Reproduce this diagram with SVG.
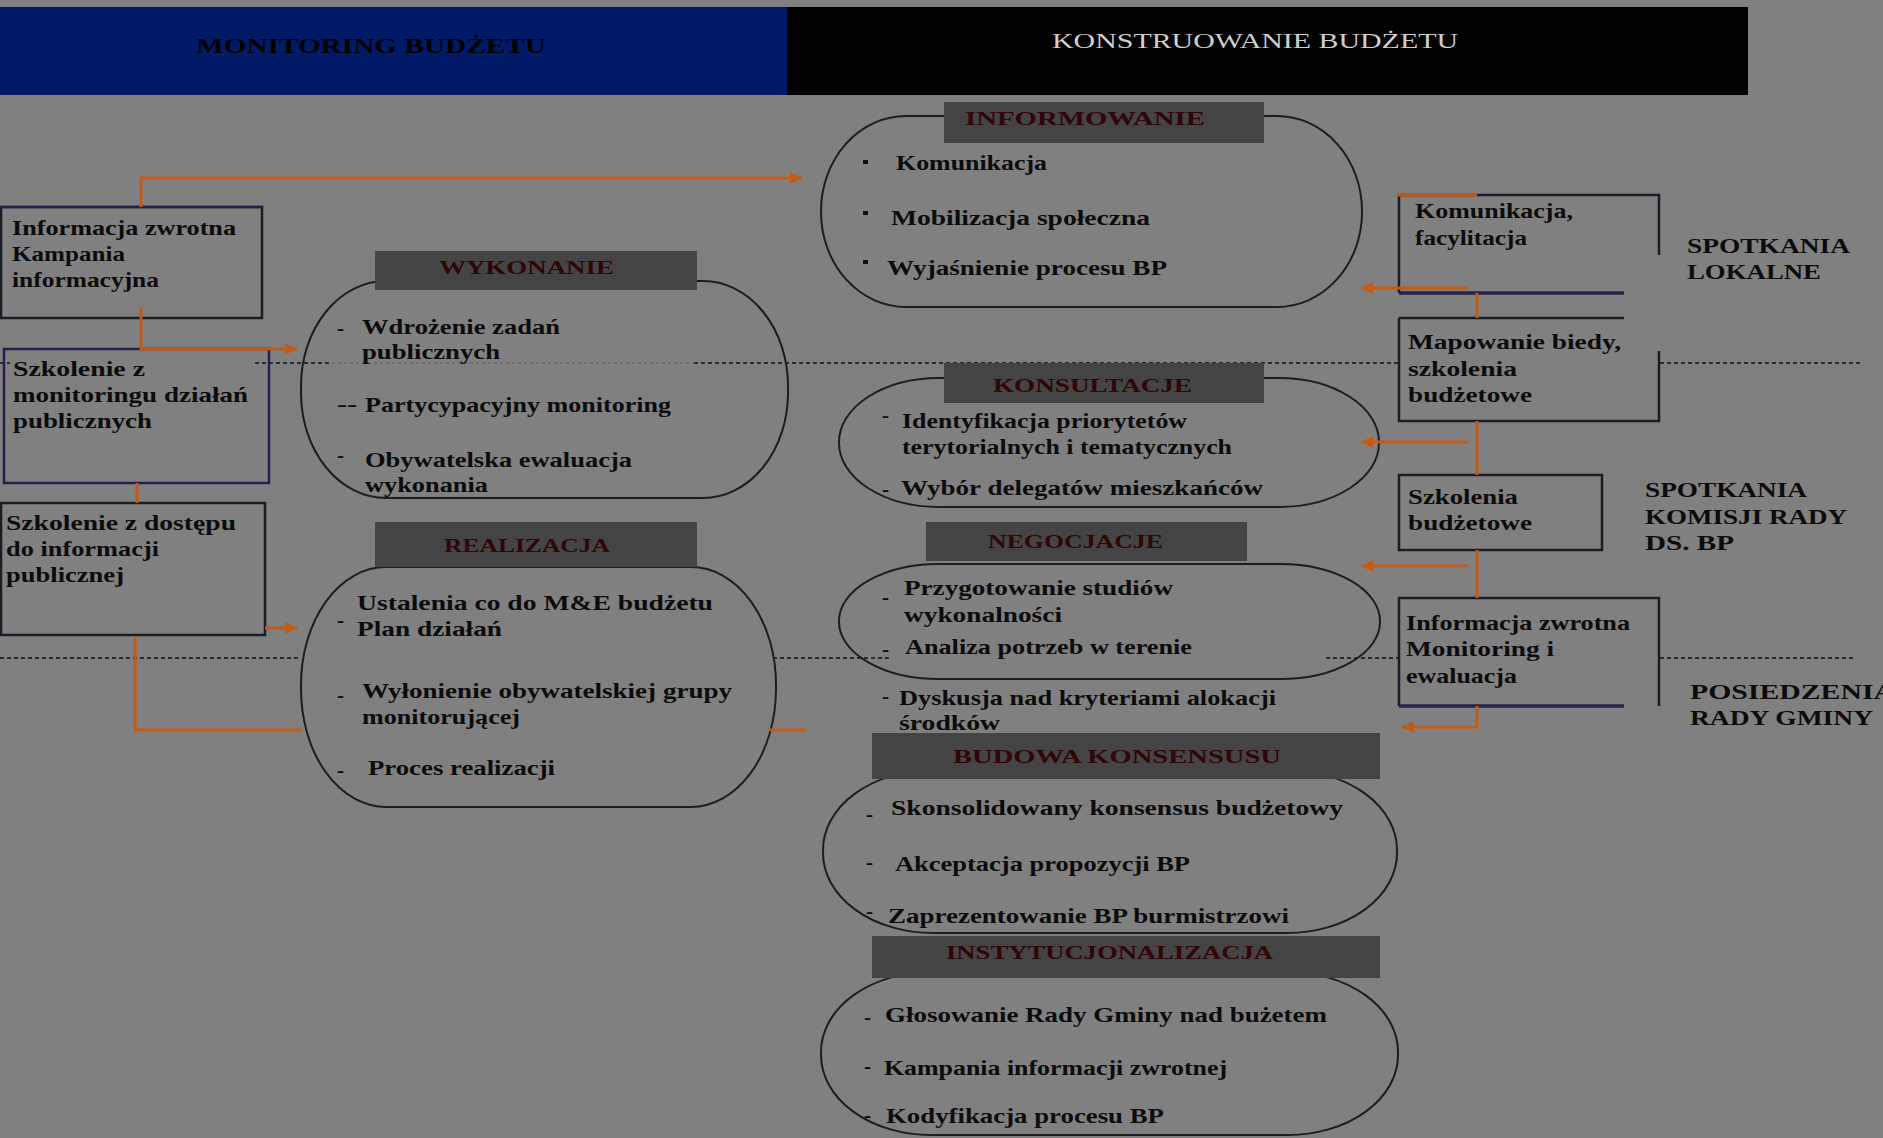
<svg xmlns="http://www.w3.org/2000/svg" width="1883" height="1138" viewBox="0 0 1883 1138">
<defs>
<marker id="ah" viewBox="0 0 10 10" refX="10" refY="5" markerWidth="12" markerHeight="12" markerUnits="userSpaceOnUse" orient="auto"><path d="M0,0 L10,5 L0,10 z" fill="#c25b14"/></marker>
</defs>
<style>
.t{font-family:"Liberation Serif","Times New Roman",serif;font-weight:bold;font-size:21px;fill:#0c0c0c;}
.h{font-family:"Liberation Serif","Times New Roman",serif;font-weight:bold;font-size:19px;fill:#300606;}
.lab{font-size:22px}
.box{fill:none;stroke:#1c1c26;stroke-width:2.5}
.pbox{fill:none;stroke:#2a1d4e;stroke-width:2.5}
.pedge{fill:none;stroke:#2a2244;stroke-width:3.5}
.shape{fill:none;stroke:#1e1e1e;stroke-width:2}
.hdr{fill:#444}
.con{fill:none;stroke:#c25b14;stroke-width:3}
.dash{stroke:#111;stroke-width:1.6;stroke-dasharray:4 3;fill:none}
.faint{stroke:#111;stroke-width:1.2;stroke-dasharray:3 3;opacity:0.3;fill:none}
.bul{fill:#111}
</style>
<rect x="0" y="0" width="1883" height="1138" fill="#808080"/>

<g id="banner">
<rect x="0" y="7" width="787" height="88" fill="#001a68"/>
<rect x="787" y="7" width="961" height="88" fill="#000"/>
<text class="t" x="196" y="53" textLength="350" lengthAdjust="spacingAndGlyphs" style="fill:#000">MONITORING BUDŻETU</text>
<text x="1052" y="48" textLength="406" lengthAdjust="spacingAndGlyphs" style="font-family:'Liberation Serif',serif;font-size:21px;fill:#cfcfcf">KONSTRUOWANIE BUDŻETU</text>
</g>

<g id="separators">
<path class="dash" d="M0,363 H10 M255,363 H332 M694,363 H1399 M1660,363 H1863"/>
<path class="faint" d="M332,363 H694"/>
<path class="dash" d="M0,658 H301 M773,658 H892 M1326,658 H1399 M1660,658 H1853"/>
</g>

<g id="box-informacja-kampania">
<rect class="box" x="1" y="207" width="261" height="111"/>
<path d="M1,207 H262" stroke="#2a1d4e" stroke-width="2.5"/>
<text class="t" x="12" y="235" textLength="224" lengthAdjust="spacingAndGlyphs">Informacja zwrotna</text>
<text class="t" x="12" y="261" textLength="113" lengthAdjust="spacingAndGlyphs">Kampania</text>
<text class="t" x="12" y="287" textLength="147" lengthAdjust="spacingAndGlyphs">informacyjna</text>
</g>

<g id="box-szkolenie-monitoring">
<rect class="pbox" x="4" y="349" width="265" height="134"/>
<text class="t" x="13" y="376" textLength="132" lengthAdjust="spacingAndGlyphs">Szkolenie z</text>
<text class="t" x="13" y="402" textLength="235" lengthAdjust="spacingAndGlyphs">monitoringu działań</text>
<text class="t" x="13" y="428" textLength="139" lengthAdjust="spacingAndGlyphs">publicznych</text>
</g>

<g id="box-szkolenie-dostep">
<rect class="box" x="1" y="503" width="264" height="132"/>
<text class="t" x="6" y="530" textLength="230" lengthAdjust="spacingAndGlyphs">Szkolenie z dostępu</text>
<text class="t" x="6" y="556" textLength="153" lengthAdjust="spacingAndGlyphs">do informacji</text>
<text class="t" x="6" y="582" textLength="118" lengthAdjust="spacingAndGlyphs">publicznej</text>
</g>

<g id="wykonanie">
<rect class="shape" x="301" y="281" width="487" height="217" rx="85" ry="105"/>
<rect class="hdr" x="375" y="251" width="322" height="39"/>
<text class="h" x="439" y="274" textLength="175" lengthAdjust="spacingAndGlyphs">WYKONANIE</text>
<text class="t" x="337" y="335">-</text>
<text class="t" x="362" y="334" textLength="198" lengthAdjust="spacingAndGlyphs">Wdrożenie zadań</text>
<text class="t" x="362" y="359" textLength="138" lengthAdjust="spacingAndGlyphs">publicznych</text>
<text class="t" x="337" y="411" textLength="20" lengthAdjust="spacingAndGlyphs">--</text>
<text class="t" x="365" y="412" textLength="306" lengthAdjust="spacingAndGlyphs">Partycypacyjny monitoring</text>
<text class="t" x="337" y="462">-</text>
<text class="t" x="365" y="467" textLength="267" lengthAdjust="spacingAndGlyphs">Obywatelska ewaluacja</text>
<text class="t" x="365" y="492" textLength="123" lengthAdjust="spacingAndGlyphs">wykonania</text>
</g>

<g id="realizacja">
<rect class="shape" x="301" y="567" width="475" height="240" rx="85" ry="118"/>
<rect class="hdr" x="375" y="522" width="322" height="45"/>
<text class="h" x="444" y="552" textLength="166" lengthAdjust="spacingAndGlyphs">REALIZACJA</text>
<text class="t" x="337" y="627">-</text>
<text class="t" x="357" y="610" textLength="356" lengthAdjust="spacingAndGlyphs">Ustalenia co do M&amp;E budżetu</text>
<text class="t" x="357" y="636" textLength="145" lengthAdjust="spacingAndGlyphs">Plan działań</text>
<text class="t" x="337" y="702">-</text>
<text class="t" x="362" y="698" textLength="370" lengthAdjust="spacingAndGlyphs">Wyłonienie obywatelskiej grupy</text>
<text class="t" x="362" y="724" textLength="158" lengthAdjust="spacingAndGlyphs">monitorującej</text>
<text class="t" x="337" y="777">-</text>
<text class="t" x="368" y="775" textLength="187" lengthAdjust="spacingAndGlyphs">Proces realizacji</text>
</g>

<g id="informowanie">
<rect class="shape" x="821" y="116" width="541" height="191" rx="85" ry="95"/>
<rect class="hdr" x="944" y="102" width="320" height="41"/>
<text class="h" x="965" y="125" textLength="240" lengthAdjust="spacingAndGlyphs">INFORMOWANIE</text>
<rect class="bul" x="863" y="160" width="5" height="4"/>
<text class="t" x="896" y="170" textLength="151" lengthAdjust="spacingAndGlyphs">Komunikacja</text>
<rect class="bul" x="863" y="211" width="5" height="4"/>
<text class="t" x="891" y="225" textLength="259" lengthAdjust="spacingAndGlyphs">Mobilizacja społeczna</text>
<rect class="bul" x="863" y="260" width="5" height="4"/>
<text class="t" x="887" y="275" textLength="280" lengthAdjust="spacingAndGlyphs">Wyjaśnienie procesu BP</text>
</g>

<g id="konsultacje">
<rect class="shape" x="839" y="378" width="540" height="129" rx="100" ry="64"/>
<rect class="hdr" x="944" y="363" width="320" height="40"/>
<text class="h" x="993" y="392" textLength="199" lengthAdjust="spacingAndGlyphs">KONSULTACJE</text>
<text class="t" x="882" y="422">-</text>
<text class="t" x="902" y="428" textLength="285" lengthAdjust="spacingAndGlyphs">Identyfikacja priorytetów</text>
<text class="t" x="902" y="454" textLength="330" lengthAdjust="spacingAndGlyphs">terytorialnych i tematycznych</text>
<text class="t" x="882" y="496">-</text>
<text class="t" x="901" y="495" textLength="362" lengthAdjust="spacingAndGlyphs">Wybór delegatów mieszkańców</text>
</g>

<g id="negocjacje">
<rect class="shape" x="839" y="564" width="541" height="115" rx="100" ry="57"/>
<rect class="hdr" x="926" y="522" width="321" height="39"/>
<text class="h" x="988" y="548" textLength="175" lengthAdjust="spacingAndGlyphs">NEGOCJACJE</text>
<text class="t" x="882" y="604">-</text>
<text class="t" x="904" y="595" textLength="269" lengthAdjust="spacingAndGlyphs">Przygotowanie studiów</text>
<text class="t" x="904" y="622" textLength="158" lengthAdjust="spacingAndGlyphs">wykonalności</text>
<text class="t" x="882" y="656">-</text>
<text class="t" x="905" y="654" textLength="287" lengthAdjust="spacingAndGlyphs">Analiza potrzeb w terenie</text>
<text class="t" x="882" y="703">-</text>
<text class="t" x="899" y="705" textLength="377" lengthAdjust="spacingAndGlyphs">Dyskusja nad kryteriami alokacji</text>
<text class="t" x="899" y="730" textLength="101" lengthAdjust="spacingAndGlyphs">środków</text>
</g>

<g id="budowa-konsensusu">
<rect class="shape" x="823" y="770" width="574" height="163" rx="110" ry="80"/>
<rect class="hdr" x="872" y="733" width="508" height="46"/>
<text class="h" x="953" y="763" textLength="328" lengthAdjust="spacingAndGlyphs">BUDOWA KONSENSUSU</text>
<text class="t" x="866" y="821">-</text>
<text class="t" x="891" y="815" textLength="452" lengthAdjust="spacingAndGlyphs">Skonsolidowany konsensus budżetowy</text>
<text class="t" x="866" y="869">-</text>
<text class="t" x="895" y="871" textLength="295" lengthAdjust="spacingAndGlyphs">Akceptacja propozycji BP</text>
<text class="t" x="866" y="918">-</text>
<text class="t" x="888" y="923" textLength="401" lengthAdjust="spacingAndGlyphs">Zaprezentowanie BP burmistrzowi</text>
</g>

<g id="instytucjonalizacja">
<rect class="shape" x="821" y="972" width="577" height="163" rx="110" ry="80"/>
<rect class="hdr" x="872" y="936" width="508" height="42"/>
<text class="h" x="946" y="959" textLength="327" lengthAdjust="spacingAndGlyphs">INSTYTUCJONALIZACJA</text>
<text class="t" x="864" y="1024">-</text>
<text class="t" x="885" y="1022" textLength="442" lengthAdjust="spacingAndGlyphs">Głosowanie Rady Gminy nad bużetem</text>
<text class="t" x="864" y="1073">-</text>
<text class="t" x="884" y="1075" textLength="343" lengthAdjust="spacingAndGlyphs">Kampania informacji zwrotnej</text>
<text class="t" x="864" y="1122">-</text>
<text class="t" x="886" y="1123" textLength="278" lengthAdjust="spacingAndGlyphs">Kodyfikacja procesu BP</text>
</g>

<g id="box-komunikacja-facylitacja">
<path class="box" d="M1399,293 V195 H1659 V255"/>
<path class="pedge" d="M1399,293 H1624"/>
<text class="t" x="1415" y="218" textLength="158" lengthAdjust="spacingAndGlyphs">Komunikacja,</text>
<text class="t" x="1415" y="245" textLength="112" lengthAdjust="spacingAndGlyphs">facylitacja</text>
</g>

<g id="box-mapowanie">
<path class="box" d="M1399,318 H1624 M1399,318 V421 H1659 V351"/>
<text class="t" x="1408" y="349" textLength="213" lengthAdjust="spacingAndGlyphs">Mapowanie biedy,</text>
<text class="t" x="1408" y="376" textLength="109" lengthAdjust="spacingAndGlyphs">szkolenia</text>
<text class="t" x="1408" y="402" textLength="124" lengthAdjust="spacingAndGlyphs">budżetowe</text>
</g>

<g id="box-szkolenia-budzetowe">
<rect class="box" x="1399" y="475" width="203" height="75"/>
<text class="t" x="1408" y="504" textLength="110" lengthAdjust="spacingAndGlyphs">Szkolenia</text>
<text class="t" x="1408" y="530" textLength="124" lengthAdjust="spacingAndGlyphs">budżetowe</text>
</g>

<g id="box-informacja-monitoring">
<path class="box" d="M1399,706 V598 H1659 V706"/>
<path class="pedge" d="M1399,706 H1624"/>
<text class="t" x="1406" y="630" textLength="224" lengthAdjust="spacingAndGlyphs">Informacja zwrotna</text>
<text class="t" x="1406" y="656" textLength="148" lengthAdjust="spacingAndGlyphs">Monitoring i</text>
<text class="t" x="1406" y="683" textLength="111" lengthAdjust="spacingAndGlyphs">ewaluacja</text>
</g>

<g id="label-spotkania-lokalne">
<text class="t lab" x="1687" y="253" textLength="163" lengthAdjust="spacingAndGlyphs">SPOTKANIA</text>
<text class="t lab" x="1687" y="279" textLength="134" lengthAdjust="spacingAndGlyphs">LOKALNE</text>
</g>
<g id="label-spotkania-komisji">
<text class="t lab" x="1645" y="497" textLength="162" lengthAdjust="spacingAndGlyphs">SPOTKANIA</text>
<text class="t lab" x="1645" y="524" textLength="202" lengthAdjust="spacingAndGlyphs">KOMISJI RADY</text>
<text class="t lab" x="1645" y="550" textLength="89" lengthAdjust="spacingAndGlyphs">DS. BP</text>
</g>
<g id="label-posiedzenia">
<text class="t lab" x="1690" y="699" textLength="205" lengthAdjust="spacingAndGlyphs">POSIEDZENIA</text>
<text class="t lab" x="1690" y="725" textLength="183" lengthAdjust="spacingAndGlyphs">RADY GMINY</text>
</g>

<g id="connectors">
<path class="con" d="M141,207 V178 H802" marker-end="url(#ah)"/>
<path class="con" d="M141,307 V349 H297" marker-end="url(#ah)"/>
<path class="con" d="M137,483 V503"/>
<path class="con" d="M265,628 H297" marker-end="url(#ah)"/>
<path class="con" d="M135,636 V730 H301"/>
<path class="con" d="M770,730 H805"/>
<path class="con" d="M1398,195 H1477"/>
<path class="con" d="M1468,288 H1361" marker-end="url(#ah)"/>
<path class="con" d="M1477,293 V318"/>
<path class="con" d="M1477,421 V475"/>
<path class="con" d="M1468,442 H1361" marker-end="url(#ah)"/>
<path class="con" d="M1477,550 V598"/>
<path class="con" d="M1468,566 H1361" marker-end="url(#ah)"/>
<path class="con" d="M1477,706 V727 H1402" marker-end="url(#ah)"/>
</g>
</svg>
